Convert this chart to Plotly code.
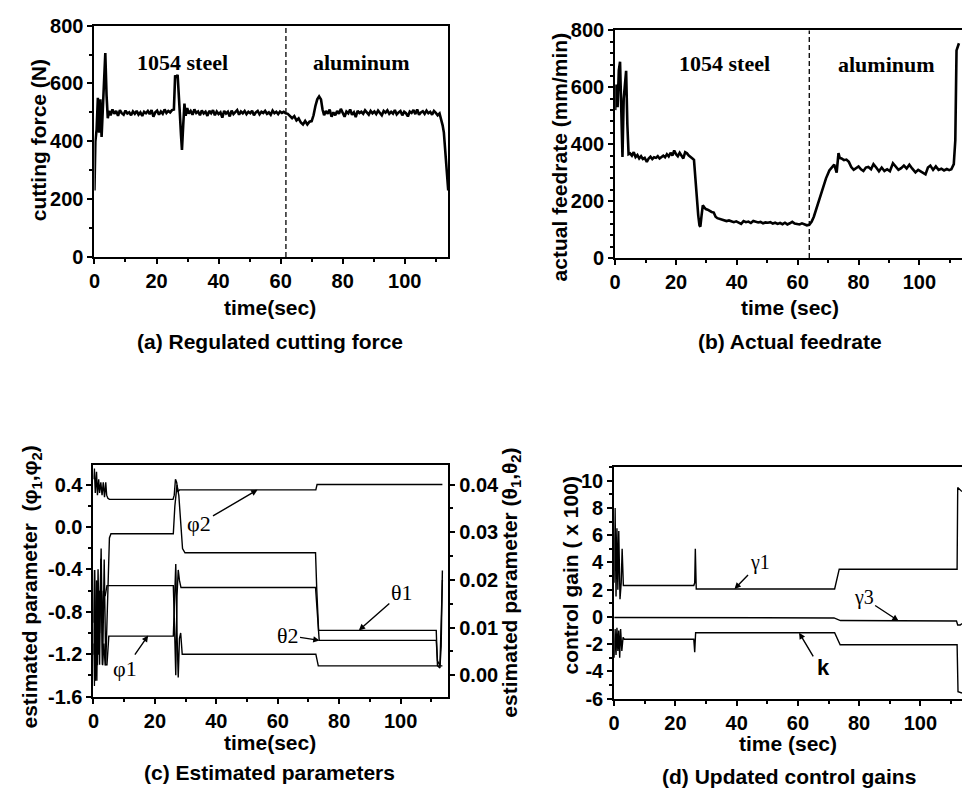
import plotly.graph_objects as go

W, H = 962, 799

# ---------------- (a) regulated cutting force [N] ----------------
force_t = [
    0.0, 0.3, 0.7, 1.1, 1.5, 1.9, 2.3, 2.7, 3.1, 3.5,
    3.9, 4.3, 4.7, 5.2, 5.8, 6.4, 7.0, 7.6, 8.2, 8.8,
    9.4, 10.0, 10.6, 11.2, 11.8, 12.4, 13.0, 13.6, 14.2, 14.8,
    15.4, 16.0, 16.6, 17.2, 17.8, 18.4, 19.0, 19.6, 20.2, 20.8,
    21.4, 22.0, 22.6, 23.2, 23.8, 24.4, 25.0, 25.6, 26.0, 26.4,
    26.8, 27.1, 27.5, 27.9, 28.2, 28.6, 29.0, 29.4, 29.9, 30.4,
    31.0, 31.6, 32.2, 32.8, 33.4, 34.0, 34.6, 35.2, 35.8, 36.4,
    37.0, 37.6, 38.2, 38.8, 39.4, 40.0, 40.6, 41.2, 41.8, 42.4,
    43.0, 43.6, 44.2, 44.8, 45.4, 46.0, 46.6, 47.2, 47.8, 48.4,
    49.0, 49.6, 50.2, 50.8, 51.4, 52.0, 52.6, 53.2, 53.8, 54.4,
    55.0, 55.6, 56.2, 56.8, 57.4, 58.0, 58.6, 59.2, 59.8, 60.4,
    61.0, 61.6, 62.3, 63.0, 63.7, 64.4, 65.1, 65.8, 66.5, 67.2,
    67.9, 68.6, 69.3, 70.0, 70.6, 71.2, 71.8, 72.4, 73.0, 73.5,
    74.0, 74.6, 75.2, 75.8, 76.4, 77.0, 77.6, 78.2, 78.8, 79.4,
    80.0, 80.6, 81.2, 81.8, 82.4, 83.0, 83.6, 84.2, 84.8, 85.4,
    86.0, 86.6, 87.2, 87.8, 88.4, 89.0, 89.6, 90.2, 90.8, 91.4,
    92.0, 92.6, 93.2, 93.8, 94.4, 95.0, 95.6, 96.2, 96.8, 97.4,
    98.0, 98.6, 99.2, 99.8, 100.4, 101.0, 101.6, 102.2, 102.8, 103.4,
    104.0, 104.6, 105.2, 105.8, 106.4, 107.0, 107.6, 108.2, 108.8, 109.4,
    110.0, 110.6, 111.2, 111.7, 112.2, 112.6, 113.0, 113.4, 113.8, 114.0,
]
force_v = [
    230, 400, 440, 550, 430, 545, 415, 520, 640, 705,
    560, 480, 505, 490, 510, 495, 505, 488, 508, 497,
    492, 506, 496, 500, 490, 503, 495, 505, 492, 500,
    488, 502, 497, 505, 494, 508, 485, 500, 506, 492,
    503, 495, 510, 498, 505, 500, 508, 510, 628, 620,
    630, 585, 500, 420, 370, 455, 530, 488, 515, 496,
    505, 492, 510, 498, 503, 490, 507, 496, 502, 488,
    505, 497, 508, 490, 503, 494, 500, 482, 505, 496,
    502, 486, 506, 494, 500, 508, 492, 503, 497, 505,
    494, 502, 497, 506, 490, 500, 505, 493, 502, 498,
    505, 495, 500, 492, 506, 497, 502, 494, 503, 498,
    502, 497, 495, 488, 480, 487, 472, 479, 465, 458,
    470, 458, 468, 470, 490, 522, 545, 555, 545, 510,
    490, 505, 495, 510, 485, 500, 490, 505, 495, 512,
    496, 485, 503, 497, 510, 492, 500, 484, 505, 498,
    502, 495, 507, 500, 492, 505, 497, 503, 494, 506,
    498, 490, 505, 499, 507, 495, 502, 496, 508, 493,
    500, 505, 490, 502, 497, 486, 503, 498, 508, 494,
    510, 492, 500, 504, 495, 506, 497, 502, 492, 505,
    498, 490, 496, 478, 455, 430, 380, 310, 260, 230,
]

# ---------------- (b) actual feedrate [mm/min] ----------------
feed_t = [
    0.0, 0.4, 0.8, 1.2, 1.6, 2.0, 2.4, 2.8, 3.2, 3.6,
    4.0, 4.4, 4.9, 5.5, 6.1, 6.7, 7.3, 7.9, 8.5, 9.1,
    9.7, 10.4, 11.0, 11.6, 12.2, 12.8, 13.4, 14.0, 14.6, 15.2,
    15.8, 16.4, 17.0, 17.6, 18.2, 18.8, 19.4, 20.0, 20.6, 21.2,
    21.8, 22.4, 23.0, 23.6, 24.2, 24.8, 25.4, 25.9, 26.4, 26.8,
    27.3, 27.7, 28.0, 28.4, 28.8, 29.3, 29.8, 30.4, 31.0, 31.7,
    32.4, 33.0, 33.6, 34.3, 35.0, 35.8, 36.6, 37.4, 38.2, 39.0,
    39.8, 40.6, 41.4, 42.2, 43.0, 43.8, 44.6, 45.4, 46.2, 47.0,
    47.8, 48.6, 49.4, 50.2, 51.0, 51.8, 52.6, 53.4, 54.2, 55.0,
    55.8, 56.6, 57.4, 58.2, 59.0, 59.8, 60.6, 61.4, 62.2, 63.0,
    63.8, 64.6, 65.3, 66.2, 67.2, 68.2, 69.3, 70.4, 71.4, 72.0,
    72.8, 73.4, 73.8, 74.4, 75.2, 76.0, 76.8, 77.6, 78.4, 79.2,
    80.0, 80.8, 81.6, 82.4, 83.2, 84.1, 84.9, 85.8, 86.7, 87.6,
    88.5, 89.4, 90.3, 91.3, 92.2, 93.1, 94.0, 94.9, 95.8, 96.7,
    97.6, 98.7, 99.6, 100.5, 101.3, 102.0, 102.8, 103.6, 104.5, 105.4,
    106.3, 107.2, 108.1, 109.0, 109.8, 110.5, 111.3, 111.8, 112.2, 113.0,
]
feed_v = [
    520, 610, 530, 660, 690, 470, 355, 560, 620, 658,
    470, 365, 368, 360, 372, 355, 362, 350, 358, 348,
    352, 338, 350, 356, 348, 354, 352, 358, 350, 356,
    360, 354, 365, 357, 370, 360, 378, 365, 358, 370,
    360, 350, 372, 368, 360, 356, 350, 345, 270, 210,
    150, 115, 110, 150, 185, 178, 172, 170, 166, 162,
    160, 145, 140, 138, 136, 134, 130, 132, 128, 126,
    129, 124, 120, 130, 126, 128, 123, 130, 127, 125,
    127, 122, 125, 124, 126, 121, 124, 120, 123, 119,
    124, 118, 122, 127, 121, 119, 118, 122, 118, 115,
    117, 128, 145, 175, 210, 242, 280, 308, 322, 328,
    300, 369, 352, 350, 344, 346, 338, 320, 310, 316,
    322, 312, 306, 318, 320, 312, 330, 318, 305, 318,
    306, 312, 305, 333, 320, 310, 316, 325, 315, 328,
    315, 301, 310, 305, 300, 294, 318, 325, 310, 322,
    310, 314, 308, 313, 309, 312, 330, 414, 730, 755,
]

# material change-over times (s)
steel_end_a = 61.7
steel_end_b = 63.8

# ---------------- (c) estimated parameters ----------------
phi2_t = [0.0, 0.3, 0.6, 1.0, 1.3, 1.7, 2.0, 2.4, 2.8, 3.2, 3.6, 4.0, 4.3, 4.7, 5.2,
          25.9, 26.3, 26.7, 27.1, 27.5, 28.0, 72.4, 72.8, 113.6]
phi2_v = [0.45, 0.55, 0.32, 0.52, 0.30, 0.45, 0.32, 0.42, 0.30, 0.42, 0.28, 0.42, 0.30, 0.27, 0.26,
          0.26, 0.30, 0.45, 0.42, 0.33, 0.35, 0.35, 0.40, 0.40]

phi1_t = [0.0, 0.3, 0.7, 1.1, 1.5, 2.0, 2.4, 2.9, 3.4, 3.8, 4.4, 5.0,
          26.0, 26.4, 26.8, 27.2, 27.6, 28.0, 28.4, 28.9, 72.4, 73.2, 113.6]
phi1_v = [-1.10, -1.50, -0.80, -1.45, -0.40, -1.30, -0.30, -1.30, -1.10, -1.30, -1.30, -1.03,
          -1.03, -0.70, -0.35, -1.00, -1.42, -1.05, -1.00, -1.20, -1.20, -1.31, -1.31]

theta1_t = [0.0, 0.3, 0.6, 1.0, 1.3, 1.7, 2.0, 2.5, 3.0, 3.5, 4.0, 4.6, 5.2, 5.7,
            26.0, 26.5, 27.2, 27.8, 28.4, 29.0, 29.8, 72.3, 72.7, 73.3,
            111.6, 112.0, 112.8, 113.2, 113.6]
theta1_v = [0.0043, 0.0221, -0.0012, 0.0199, 0.0021, 0.0177, 0.0088, 0.0266, 0.0021, 0.0243, 0.0021, 0.0177, 0.0288, 0.0297,
            0.0297, 0.0355, 0.0399, 0.0377, 0.0310, 0.0266, 0.0257, 0.0257, 0.0180, 0.0094,
            0.0094, 0.0020, 0.0015, 0.0060, 0.0220]

theta2_t = [0.0, 0.4, 0.8, 1.2, 1.6, 2.0, 2.7, 3.2, 3.8, 4.4, 5.0,
            26.0, 26.4, 26.8, 27.2, 27.6, 28.0, 28.5, 72.3, 72.8, 73.5,
            111.6, 112.0, 112.8, 113.3, 113.6]
theta2_v = [0.0110, 0.0221, 0.0021, 0.0199, 0.0043, 0.0177, 0.0110, 0.0177, 0.0166, 0.0188, 0.0188,
            0.0188, 0.0100, 0.0000, 0.0166, 0.0221, 0.0199, 0.0184, 0.0184, 0.0130, 0.0073,
            0.0073, 0.0030, 0.0020, 0.0120, 0.0200]

# ---------------- (d) updated control gains (x100) ----------------
gamma1_t = [0.0, 0.3, 0.6, 0.9, 1.2, 1.5, 1.9, 2.3, 2.6, 3.0,
            26.0, 26.3, 26.5, 26.8, 72.0, 73.5, 112.0, 112.2, 113.6]
gamma1_v = [2.5, 8.0, 1.5, 6.5, 2.0, 6.3, 1.3, 2.5, 5.0, 2.3,
            2.3, 2.5, 5.0, 2.05, 2.05, 3.5, 3.5, 9.5, 9.2]

gamma3_t = [0.0, 71.8, 73.9, 111.8, 112.2, 113.0, 113.6]
gamma3_v = [-0.05, -0.08, -0.27, -0.30, -0.60, -0.60, -0.50]

k_t = [0.0, 0.3, 0.6, 0.9, 1.2, 1.5, 1.8, 2.1, 2.5, 2.9, 3.3,
       26.0, 26.3, 26.6, 72.0, 73.8, 112.0, 112.3, 113.6]
k_v = [-3.0, -0.9, -2.8, -0.8, -2.5, -1.0, -3.0, -0.9, -2.5, -1.5, -1.64,
       -1.64, -2.6, -1.17, -1.17, -2.05, -2.05, -5.5, -5.6]

# tick labels
c_left_vals = [0.4, 0.0, -0.4, -0.8, -1.2, -1.6]
c_left_text = ["0.4", "0.0", "-0.4", "-0.8", "-1.2", "-1.6"]
c_right_vals = [0.0, 0.01, 0.02, 0.03, 0.04]
c_right_text = ["0.00", "0.01", "0.02", "0.03", "0.04"]
d_vals = [10, 8, 6, 4, 2, 0, -2, -4, -6]
d_text = ["10", "8", "6", "4", "2", "0", "-2", "-4", "-6"]


def px(x):
    return x / W


def py(y):
    return 1 - y / H


SANS = "Liberation Sans"
SERIF = "Liberation Serif"

fig = go.Figure()

thick = dict(color="black", width=2.6)
thin = dict(color="black", width=1.4)

fig.add_trace(go.Scatter(x=force_t, y=force_v, mode="lines", line=thick, xaxis="x", yaxis="y"))
fig.add_trace(go.Scatter(x=feed_t, y=feed_v, mode="lines", line=thick, xaxis="x2", yaxis="y2"))
fig.add_trace(go.Scatter(x=phi2_t, y=phi2_v, mode="lines", line=thin, xaxis="x3", yaxis="y3"))
fig.add_trace(go.Scatter(x=phi1_t, y=phi1_v, mode="lines", line=thin, xaxis="x3", yaxis="y3"))
fig.add_trace(go.Scatter(x=theta1_t, y=theta1_v, mode="lines", line=thin, xaxis="x3", yaxis="y5"))
fig.add_trace(go.Scatter(x=theta2_t, y=theta2_v, mode="lines", line=thin, xaxis="x3", yaxis="y5"))
fig.add_trace(go.Scatter(x=gamma1_t, y=gamma1_v, mode="lines", line=thin, xaxis="x4", yaxis="y4"))
fig.add_trace(go.Scatter(x=gamma3_t, y=gamma3_v, mode="lines", line=thin, xaxis="x4", yaxis="y4"))
fig.add_trace(go.Scatter(x=k_t, y=k_v, mode="lines", line=thin, xaxis="x4", yaxis="y4"))

tickfont = dict(family=SANS, size=20, color="black", weight="bold")


def axis_style(**kw):
    base = dict(
        showline=True, linecolor="black", linewidth=2, mirror=True,
        ticks="outside", ticklen=5, tickwidth=2, tickcolor="black",
        showgrid=False, zeroline=False, tickfont=tickfont,
    )
    base.update(kw)
    return base


minor_x = dict(ticks="outside", ticklen=3, tickwidth=1.5, tickcolor="black", dtick=10, showgrid=False)

fig.update_layout(
    width=W, height=H,
    margin=dict(l=0, r=0, t=0, b=0),
    paper_bgcolor="white", plot_bgcolor="white",
    showlegend=False,
    xaxis=axis_style(domain=[px(89), px(445)], anchor="y", range=[0, 114],
                     tickvals=[0, 20, 40, 60, 80, 100], minor=minor_x),
    yaxis=axis_style(domain=[py(253), py(15)], anchor="x", range=[0, 800],
                     tickvals=[0, 200, 400, 600, 800],
                     minor=dict(ticks="outside", ticklen=3, tickwidth=1.5, tickcolor="black", dtick=100)),
    xaxis2=axis_style(domain=[px(613), 1.0], anchor="y2", range=[0, 114],
                      tickvals=[0, 20, 40, 60, 80, 100], minor=minor_x),
    yaxis2=axis_style(domain=[py(254), py(20)], anchor="x2", range=[0, 800], mirror=False,
                      tickvals=[0, 200, 400, 600, 800],
                      minor=dict(ticks="outside", ticklen=3, tickwidth=1.5, tickcolor="black", dtick=40)),
    xaxis3=axis_style(domain=[px(88), px(445)], anchor="y3", range=[0, 115.5],
                      tickvals=[0, 20, 40, 60, 80, 100], minor=minor_x),
    yaxis3=axis_style(domain=[py(705), py(467)], anchor="x3", range=[-1.6, 0.583], mirror=False,
                      tickvals=c_left_vals, ticktext=c_left_text,
                      minor=dict(ticks="outside", ticklen=3, tickwidth=1.5, tickcolor="black", dtick=0.2)),
    yaxis5=axis_style(overlaying="y3", anchor="x3", side="right", range=[-0.0045, 0.0441], mirror=False,
                      tickvals=c_right_vals, ticktext=c_right_text,
                      minor=dict(ticks="outside", ticklen=3, tickwidth=1.5, tickcolor="black", dtick=0.005)),
    xaxis4=axis_style(domain=[px(612), 1.0], anchor="y4", range=[0, 113.6],
                      tickvals=[0, 20, 40, 60, 80, 100], minor=minor_x),
    yaxis4=axis_style(domain=[py(707), py(469)], anchor="x4", range=[-6, 11], mirror=False,
                      tickvals=d_vals, ticktext=d_text,
                      minor=dict(ticks="outside", ticklen=3, tickwidth=1.5, tickcolor="black", dtick=1)),
)

# material boundary lines
fig.add_shape(type="line", xref="x", yref="y domain", x0=steel_end_a, x1=steel_end_a, y0=0, y1=1,
              line=dict(color="black", width=1.3, dash="5px,3px"))
fig.add_shape(type="line", xref="x2", yref="y2 domain", x0=steel_end_b, x1=steel_end_b, y0=0, y1=1,
              line=dict(color="black", width=1.3, dash="5px,3px"))

ann = []


def text(x, y, s, size=21, family=SANS, bold=True, angle=0):
    ann.append(dict(
        xref="paper", yref="paper", x=px(x), y=py(y), text=s, showarrow=False,
        textangle=angle, xanchor="center", yanchor="middle",
        font=dict(family=family, size=size, color="black", weight="bold" if bold else "normal"),
    ))


# axis titles
text(33, 133, "cutting force (N)", angle=-90)
text(557, 150, "actual feedrate (mm/min)", angle=-90)
text(25, 592, "estimated parameter  (φ<sub>1</sub>,φ<sub>2</sub>)", angle=-90)
text(508, 588, "estimated parameter (θ<sub>1</sub>,θ<sub>2</sub>)", angle=-90)
text(568, 580, "control gain ( x 100)", angle=-90)

text(266, 305, "time(sec)")
text(789, 305, "time (sec)")
text(266, 752, "time(sec)")
text(787, 753, "time (sec)")

# captions
text(266, 340, "(a) Regulated cutting force")
text(789, 340, "(b) Actual feedrate")
text(265, 783, "(c) Estimated parameters")
text(788, 787, "(d) Updated control gains")

# material labels
text(178, 53, "1054 steel", size=22, family=SERIF)
text(358, 53, "aluminum", size=22, family=SERIF)
text(723, 54, "1054 steel", size=22, family=SERIF)
text(886, 55, "aluminum", size=22, family=SERIF)


def label(xref, yref, x, y, s, ax, ay, size=22, family=SERIF, bold=False):
    # curve label with a pointer whose head sits on the curve at (x, y)
    ann.append(dict(
        xref=xref, yref=yref, x=x, y=y, ax=ax, ay=ay, text=s, showarrow=True,
        arrowhead=2, arrowsize=0.9, arrowwidth=1.4, arrowcolor="black", standoff=0,
        font=dict(family=family, size=size, color="black", weight="bold" if bold else "normal"),
    ))


def pointer(xref, yref, x, y, ax, ay):
    ann.append(dict(
        xref=xref, yref=yref, x=x, y=y, ax=ax, ay=ay, text="", showarrow=True,
        arrowhead=2, arrowsize=0.9, arrowwidth=1.4, arrowcolor="black",
    ))


label("x3", "y3", 53.4, 0.35, "φ2", -58, 34)
label("x3", "y3", 17.8, -1.025, "φ1", -23, 33)
label("x3", "y5", 86.4, 0.0094, "θ1", 43, -38)
label("x3", "y5", 73.6, 0.0073, "θ2", -32, -5)
label("x4", "y4", 39.3, 2.05, "γ1", 25, -26, size=20)
label("x4", "y4", 92.9, -0.3, "γ3", -35, -23, size=20)
text(823, 675, "k", size=22)
pointer("x4", "y4", 60.4, -1.17, 15, 25)

fig.update_layout(annotations=ann)

fig.write_html("out.html")
